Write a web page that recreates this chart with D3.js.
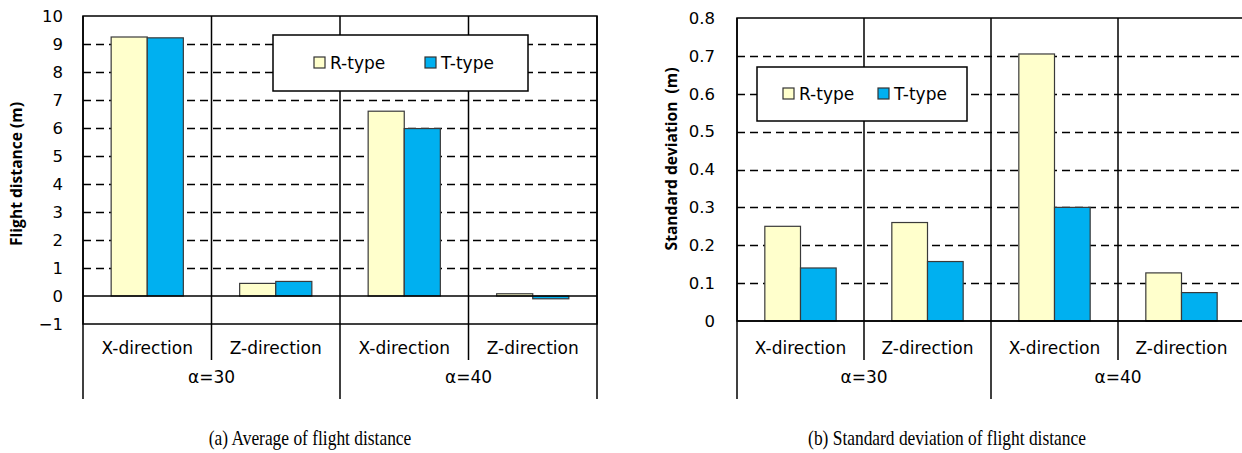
<!DOCTYPE html>
<meta charset="utf-8">
<style>
    body { margin: 0; background: #fff; }
    text { font-family: "DejaVu Sans", Verdana, sans-serif; fill: #000; }
    .cap { font-family: "Liberation Serif", "Times New Roman", serif; }
</style>
<body>
<script src="https://cdn.jsdelivr.net/npm/d3@7"></script>
<script>

// data
var alphas = ["α=30", "α=40"];
var directions = ["X-direction", "Z-direction"];
var series = ["R-type", "T-type"];
var colors = ["#FFFFCC", "#00B0F0"];

var avgR = [9.25, 0.45, 6.6, 0.08];
var avgT = [9.22, 0.52, 5.98, -0.1];
var avgTicks = [-1, 0, 1, 2, 3, 4, 5, 6, 7, 8, 9, 10];

var sdR = [0.25, 0.26, 0.705, 0.127];
var sdT = [0.14, 0.157, 0.30, 0.075];
var sdTicks = [0, 0.1, 0.2, 0.3, 0.4, 0.5, 0.6, 0.7, 0.8];

var svg = d3.select("body").append("svg")
    .attr("width", 1242)
    .attr("height", 453);

function drawChart(opt) {
    var cats = [];
    alphas.forEach(function(a) {
        directions.forEach(function(d) { cats.push(a + "|" + d); });
    });

    var x = d3.scaleBand().domain(cats).range([opt.left, opt.right]);
    var xs = d3.scaleBand().domain(series).range([0, x.bandwidth()])
        .paddingInner(0).paddingOuter(0.78);
    var y = d3.scaleLinear().domain(opt.domain).range([opt.bottom, opt.top]);

    var g = svg.append("g");

    // dashed gridlines
    g.selectAll(".grid")
        .data(opt.ticks.filter(function(t) { return t > 0 && t < opt.domain[1]; }))
      .enter().append("line")
        .attr("x1", opt.left).attr("x2", opt.right)
        .attr("y1", function(d) { return Math.round(y(d)) + 0.5; })
        .attr("y2", function(d) { return Math.round(y(d)) + 0.5; })
        .attr("stroke", "#000")
        .attr("stroke-width", 1.3)
        .attr("stroke-dasharray", "8,5");

    // category dividers inside and below the plot
    var bounds = cats.map(function(c) { return x(c); }).concat([opt.right]);
    g.selectAll(".div")
        .data(bounds)
      .enter().append("line")
        .attr("x1", function(d) { return d; })
        .attr("x2", function(d) { return d; })
        .attr("y1", opt.top)
        .attr("y2", function(d, i) { return i % 2 ? 360 : 399; })
        .attr("stroke", "#000")
        .attr("stroke-width", 1.5);

    // bars
    var rows = [];
    cats.forEach(function(c, i) {
        rows.push({cat: c, s: series[0], v: opt.r[i], col: colors[0]});
        rows.push({cat: c, s: series[1], v: opt.t[i], col: colors[1]});
    });
    g.selectAll(".bar")
        .data(rows)
      .enter().append("rect")
        .attr("x", function(d) { return x(d.cat) + xs(d.s); })
        .attr("width", xs.bandwidth())
        .attr("y", function(d) { return y(Math.max(0, d.v)); })
        .attr("height", function(d) { return Math.abs(y(d.v) - y(0)); })
        .attr("fill", function(d) { return d.col; })
        .attr("stroke", "#3a3a3a")
        .attr("stroke-width", 1.2);

    // zero line and plot border
    g.append("line")
        .attr("x1", opt.left).attr("x2", opt.right)
        .attr("y1", y(0)).attr("y2", y(0))
        .attr("stroke", "#000").attr("stroke-width", 1.5);
    g.append("rect")
        .attr("x", opt.left).attr("y", opt.top)
        .attr("width", opt.right - opt.left)
        .attr("height", opt.bottom - opt.top)
        .attr("fill", "none")
        .attr("stroke", "#000")
        .attr("stroke-width", 1.5);

    // y axis labels
    var yAxis = d3.axisLeft(y).tickValues(opt.ticks).tickSize(0).tickPadding(opt.pad)
        .tickFormat(d3.format(opt.fmt));
    var ga = g.append("g")
        .attr("transform", "translate(" + opt.left + ",0)")
        .call(yAxis);
    ga.select(".domain").remove();
    ga.selectAll("text")
        .style("font-family", "'DejaVu Sans', Verdana, sans-serif")
        .style("font-size", "16.5px");

    g.append("text")
        .attr("transform", "translate(" + opt.titleX + "," + opt.titleY + ") rotate(-90)")
        .attr("text-anchor", "middle")
        .attr("dy", "0.35em")
        .style("font-family", "'Open Sans', sans-serif")
        .style("font-size", "15.6px")
        .style("font-weight", "bold")
        .style("white-space", "pre")
        .text(opt.title);

    // category labels
    g.selectAll(".cat")
        .data(cats)
      .enter().append("text")
        .attr("x", function(d) { return x(d) + x.bandwidth() / 2; })
        .attr("y", 348)
        .attr("dy", "0.35em")
        .attr("text-anchor", "middle")
        .style("font-size", "17px")
        .text(function(d) { return d.split("|")[1]; });

    g.selectAll(".alpha")
        .data(alphas)
      .enter().append("text")
        .attr("x", function(d) { return x(d + "|" + directions[0]) + x.bandwidth(); })
        .attr("y", 377)
        .attr("dy", "0.35em")
        .attr("text-anchor", "middle")
        .style("font-size", "17px")
        .text(function(d) { return d; });

    // legend
    var lg = g.append("g");
    lg.append("rect")
        .attr("x", opt.leg.x).attr("y", opt.leg.y)
        .attr("width", opt.leg.w).attr("height", opt.leg.h)
        .attr("fill", "#fff")
        .attr("stroke", "#000")
        .attr("stroke-width", 1.5);
    series.forEach(function(s, i) {
        var mx = opt.leg.x + opt.leg.items[i];
        var my = opt.leg.y + opt.leg.h / 2;
        lg.append("rect")
            .attr("x", mx).attr("y", my - 6)
            .attr("width", 11).attr("height", 11)
            .attr("fill", colors[i])
            .attr("stroke", "#333")
            .attr("stroke-width", 1.2);
        lg.append("text")
            .attr("x", mx + 16).attr("y", my)
            .attr("dy", "0.35em")
            .style("font-size", "17px")
            .text(s);
    });

    // caption (condensed serif)
    g.append("text")
        .attr("class", "cap")
        .attr("transform", "translate(" + opt.capX + ",437) scale(0.81,1)")
        .attr("dy", "0.35em")
        .attr("text-anchor", "middle")
        .style("font-size", "21.5px")
        .text(opt.caption);
}

drawChart({
    left: 83, right: 597, top: 16, bottom: 324,
    domain: [-1, 10], ticks: avgTicks, fmt: "d", pad: 20,
    r: avgR, t: avgT,
    title: "Flight distance (m)", titleX: 17, titleY: 174,
    leg: {x: 273, y: 35, w: 255, h: 56, items: [41, 152]},
    caption: "(a) Average of flight distance", capX: 310
});

drawChart({
    left: 737, right: 1245, top: 18, bottom: 321,
    domain: [0, 0.8], ticks: sdTicks, fmt: "~g", pad: 22,
    r: sdR, t: sdT,
    title: "Standard deviation  (m)", titleX: 672, titleY: 159,
    leg: {x: 757, y: 67, w: 210, h: 54, items: [26, 121]},
    caption: "(b) Standard deviation of flight distance", capX: 947
});

</script>
</body>
